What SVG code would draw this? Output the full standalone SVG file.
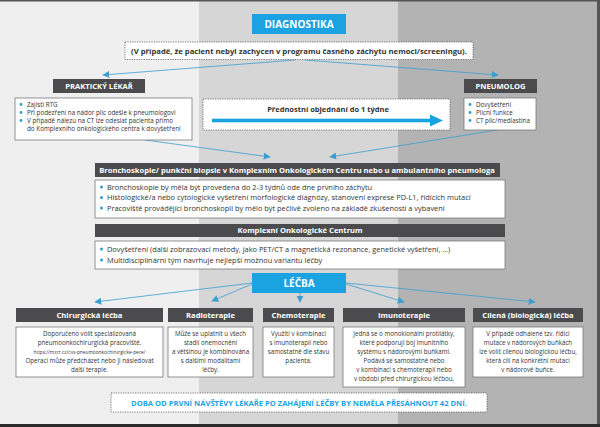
<svg xmlns="http://www.w3.org/2000/svg" width="600" height="427" viewBox="0 0 600 427">
<defs>
<style>
text{font-family:"Open Sans","Noto Sans","Liberation Sans",sans-serif;fill:#333}
.bar{fill:#4b4b4d}
.box{fill:#fff;stroke:#7a7a7a;stroke-width:0.8}
.dot{fill:#fff;stroke:#555;stroke-width:0.8;stroke-dasharray:1.2 1.2}
.blue{fill:#1aa3e0}
.bt{fill:#fff;font-weight:bold;font-size:7.6px;text-anchor:middle}
.ht{fill:#fff;font-weight:bold;font-size:10px;text-anchor:middle}
.t{font-size:6.3px}
.tb{font-size:7.4px}
.tc{font-size:6.2px;text-anchor:middle}
.bul{fill:#2c9ed0}
.ln{stroke:#3a9fd0;stroke-width:0.8;fill:none}
</style>
<marker id="ah" viewBox="0 0 10 10" refX="9" refY="5" markerWidth="7" markerHeight="7" orient="auto" markerUnits="userSpaceOnUse">
<path d="M0,0 L10,5 L0,10 Z" fill="#3a9fd0"/>
</marker>
</defs>
<rect x="0" y="0" width="600" height="427" fill="#efefef"/>
<rect x="199" y="0" width="199" height="427" fill="#d6d6d6"/>
<rect x="398" y="0" width="199" height="427" fill="#b3b3b3"/>
<rect x="597" y="0" width="3" height="427" fill="#555"/>
<rect x="0" y="424" width="600" height="3" fill="#2a2a2a"/>
<rect x="0" y="0" width="600" height="1.5" fill="#555"/>

<g id="connectors">
<line class="ln" x1="295" y1="60" x2="103" y2="75" marker-end="url(#ah)"/>
<line class="ln" x1="305" y1="60" x2="498" y2="75" marker-end="url(#ah)"/>
<line class="ln" x1="145" y1="140" x2="270" y2="157" marker-end="url(#ah)"/>
<line class="ln" x1="497" y1="130" x2="330" y2="157" marker-end="url(#ah)"/>
<line class="ln" x1="252" y1="283" x2="95" y2="302" marker-end="url(#ah)"/>
<line class="ln" x1="252" y1="284" x2="212" y2="301" marker-end="url(#ah)"/>
<line class="ln" x1="300" y1="293" x2="300" y2="302" marker-end="url(#ah)"/>
<line class="ln" x1="346" y1="284" x2="404" y2="302" marker-end="url(#ah)"/>
<line class="ln" x1="346" y1="283" x2="535" y2="302" marker-end="url(#ah)"/>
</g>

<g id="diagnostika">
<rect class="blue" x="252" y="14" width="94" height="20"/>
<text class="ht" x="299" y="27.5">DIAGNOSTIKA</text>
</g>

<g id="note">
<rect class="dot" x="125" y="42" width="348" height="17.5"/>
<text x="299" y="53.5" style="font-size:7.7px;font-weight:bold;text-anchor:middle">(V případě, že pacient nebyl zachycen v programu časného záchytu nemoci/screeningu).</text>
</g>

<g id="prakticky-lekar">
<rect class="bar" x="53" y="79" width="92" height="14"/>
<text class="bt" x="99" y="88.8">PRAKTICKÝ LÉKAŘ</text>
<rect class="box" x="15" y="98" width="177" height="42"/>
<circle class="bul" cx="21" cy="104.5" r="1.4"/>
<circle class="bul" cx="21" cy="112.5" r="1.4"/>
<circle class="bul" cx="21" cy="120.5" r="1.4"/>
<text class="t" x="27" y="106.7">Zajistí RTG</text>
<text class="t" x="27" y="114.7">Při podezření na nádor plic odešle k pneumologovi</text>
<text class="t" x="27" y="122.7">V případě nálezu na CT lze odeslat pacienta přímo</text>
<text class="t" x="27" y="130.7">do Komplexního onkologického centra k dovyšetření</text>
</g>

<g id="prednostni">
<rect class="dot" x="203" y="99" width="247" height="31"/>
<text x="328" y="112" style="font-size:7.5px;font-weight:bold;text-anchor:middle">Přednostní objednání do 1 týdne</text>
<rect x="212" y="118.7" width="220" height="3.6" fill="#1aa3e0"/>
<path d="M430,114.5 L443,120.5 L430,126.5 Z" fill="#1aa3e0"/>
</g>

<g id="pneumolog">
<rect class="bar" x="464" y="79" width="73" height="14"/>
<text class="bt" x="500.5" y="88.8">PNEUMOLOG</text>
<rect class="box" x="464" y="98" width="72" height="32"/>
<circle class="bul" cx="470" cy="104.5" r="1.4"/>
<circle class="bul" cx="470" cy="112.5" r="1.4"/>
<circle class="bul" cx="470" cy="120.5" r="1.4"/>
<text class="t" x="476" y="106.7">Dovyšetření</text>
<text class="t" x="476" y="114.7">Plicní funkce</text>
<text class="t" x="476" y="122.7">CT plic/mediastina</text>
</g>

<g id="bronchoskopie">
<rect class="bar" x="95" y="163" width="405" height="14"/>
<text class="bt" x="297" y="172.8">Bronchoskopie/ punkční biopsie v Komplexním Onkologickém Centru nebo u ambulantního pneumologa</text>
<rect class="box" x="95" y="180" width="410" height="38"/>
<circle class="bul" cx="101.5" cy="187" r="1.5"/>
<circle class="bul" cx="101.5" cy="197.5" r="1.5"/>
<circle class="bul" cx="101.5" cy="208" r="1.5"/>
<text class="tb" x="107" y="189.6">Bronchoskopie by měla být provedena do 2-3 týdnů ode dne prvního záchytu</text>
<text class="tb" x="107" y="200.1">Histologické/a nebo cytologické vyšetření morfologické diagnózy, stanovení exprese PD-L1, řídících mutací</text>
<text class="tb" x="107" y="210.6">Pracoviště provádějící bronchoskopii by mělo být pečlivě zvoleno na základě zkušeností a vybavení</text>
</g>

<g id="komplexni">
<rect class="bar" x="95" y="224" width="410" height="13"/>
<text class="bt" x="300" y="233.3">Komplexní Onkologické Centrum</text>
<rect class="box" x="95" y="241" width="410" height="28"/>
<circle class="bul" cx="101.5" cy="249" r="1.5"/>
<circle class="bul" cx="101.5" cy="260" r="1.5"/>
<text class="tb" x="107" y="251.6">Dovyšetření (další zobrazovací metody, jako PET/CT a magnetická rezonance, genetické vyšetření, ...)</text>
<text class="tb" x="107" y="262.6">Multidisciplinární tým navrhuje nejlepší možnou variantu léčby</text>
</g>

<g id="lecba">
<rect class="blue" x="252" y="273" width="94" height="20"/>
<text class="ht" x="299" y="286.5">LÉČBA</text>
</g>

<g id="chirurgicka">
<rect class="bar" x="16" y="308" width="147" height="14"/>
<text class="bt" x="89.5" y="317.8">Chirurgická léčba</text>
<rect class="box" x="16" y="327" width="147" height="50"/>
<text class="tc" x="89.5" y="335.5">Doporučeno volit specializovaná</text>
<text class="tc" x="89.5" y="344.5">pneumoonkochirurgická pracoviště.</text>
<text class="tc" x="89.5" y="353.5" style="font-size:4.8px">https://mzcr.cz/cvs-pneumoonkochirurgicke-pece/</text>
<text class="tc" x="89.5" y="362.5">Operaci může předcházet nebo ji následovat</text>
<text class="tc" x="89.5" y="371.5">další terapie.</text>
</g>

<g id="radioterapie">
<rect class="bar" x="168" y="308" width="85" height="14"/>
<text class="bt" x="210.5" y="317.8">Radioterapie</text>
<rect class="box" x="168" y="327" width="85" height="50"/>
<text class="tc" x="210.5" y="335.5">Může se uplatnit u všech</text>
<text class="tc" x="210.5" y="344.5">stadií onemocnění</text>
<text class="tc" x="210.5" y="353.5">a většinou je kombinována</text>
<text class="tc" x="210.5" y="362.5">s dalšími modalitami</text>
<text class="tc" x="210.5" y="371.5">léčby.</text>
</g>

<g id="chemoterapie">
<rect class="bar" x="263" y="308" width="71" height="14"/>
<text class="bt" x="298.5" y="317.8">Chemoterapie</text>
<rect class="box" x="263" y="327" width="71" height="50"/>
<text class="tc" x="298.5" y="335.5">Využití v kombinaci</text>
<text class="tc" x="298.5" y="344.5">s imunoterapií nebo</text>
<text class="tc" x="298.5" y="353.5">samostatně dle stavu</text>
<text class="tc" x="298.5" y="362.5">pacienta.</text>
</g>

<g id="imunoterapie">
<rect class="bar" x="343" y="308" width="122" height="14"/>
<text class="bt" x="404" y="317.8">Imunoterapie</text>
<rect class="box" x="343" y="327" width="122" height="60"/>
<text class="tc" x="404" y="335.5">Jedná se o monoklonální protilátky,</text>
<text class="tc" x="404" y="344.5">které podporují boj imunitního</text>
<text class="tc" x="404" y="353.5">systému s nádorovými buňkami.</text>
<text class="tc" x="404" y="362.5">Podává se samostatně nebo</text>
<text class="tc" x="404" y="371.5">v kombinaci s chemoterapií nebo</text>
<text class="tc" x="404" y="380.5">v období před chirurgickou léčbou.</text>
</g>

<g id="cilena">
<rect class="bar" x="473" y="308" width="110" height="14"/>
<text class="bt" x="528" y="317.8">Cílená (biologická) léčba</text>
<rect class="box" x="473" y="327" width="110" height="50"/>
<text class="tc" x="528" y="335.5">V případě odhalené tzv. řídící</text>
<text class="tc" x="528" y="344.5">mutace v nádorových buňkách</text>
<text class="tc" x="528" y="353.5">lze volit cílenou biologickou léčbu,</text>
<text class="tc" x="528" y="362.5">která cílí na konkrétní mutaci</text>
<text class="tc" x="528" y="371.5">v nádorové buňce.</text>
</g>

<g id="doba">
<rect class="dot" x="111" y="393" width="376" height="19"/>
<text x="299" y="405.5" style="font-size:7.6px;font-weight:bold;fill:#1aa3e0;text-anchor:middle">DOBA OD PRVNÍ NÁVŠTĚVY LÉKAŘE PO ZAHÁJENÍ LÉČBY BY NEMĚLA PŘESÁHNOUT 42 DNÍ.</text>
</g>
</svg>
